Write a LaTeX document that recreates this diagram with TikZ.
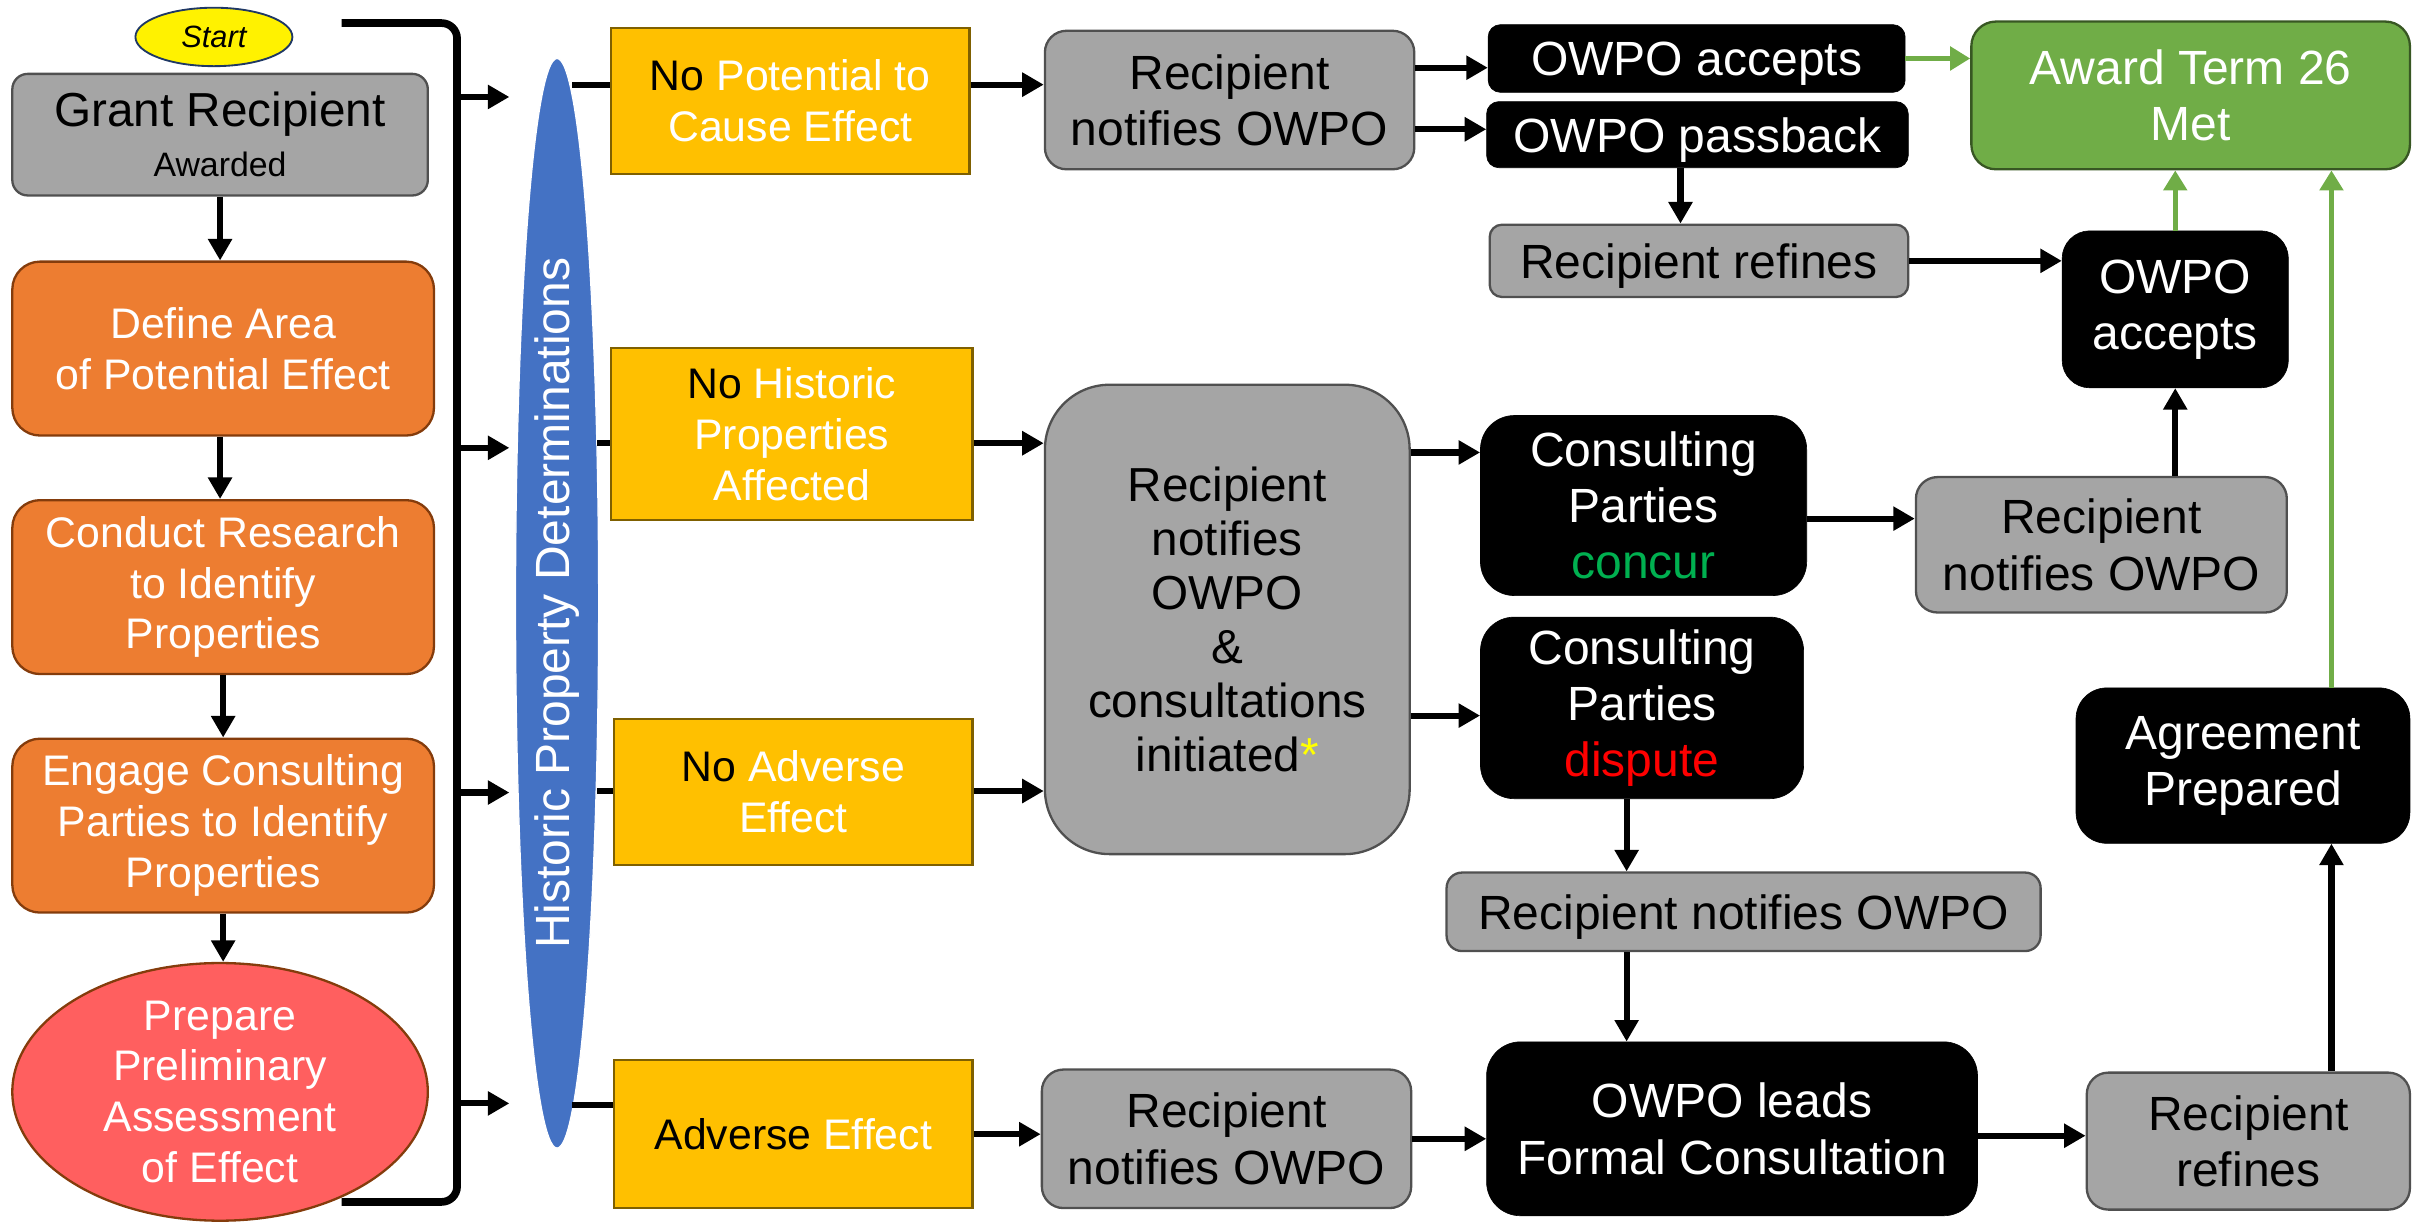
\documentclass[tikz,border=0pt]{standalone}
\usepackage{fontspec}
\setmainfont{Liberation Sans}
\usetikzlibrary{arrows.meta,shapes.geometric}
\definecolor{gfill}{HTML}{A5A5A5}
\definecolor{gborder}{HTML}{505050}
\definecolor{ofill}{HTML}{ED7D31}
\definecolor{oborder}{HTML}{843C0C}
\definecolor{rfill}{HTML}{FF5F5F}
\definecolor{yfill}{HTML}{FFC000}
\definecolor{yborder}{HTML}{7F6000}
\definecolor{bfill}{HTML}{4472C4}
\definecolor{grfill}{HTML}{70AD47}
\definecolor{grborder}{HTML}{385723}
\definecolor{startb}{HTML}{1F3864}
\definecolor{concur}{HTML}{00B050}
\definecolor{ast}{HTML}{FFFF00}
\begin{document}
\begin{tikzpicture}[x=1pt,y=-1pt,
  sz/.style 2 args={minimum width=#1pt,minimum height=#2pt},
  base/.style={align=center,inner sep=0pt,font=\fontsize{31.2}{36.5}\selectfont},
  gbox/.style={base,draw=gborder,fill=gfill,line width=1.5pt,rounded corners=10pt,text=black},
  bbox/.style={base,draw=black,fill=black,rounded corners=10pt,text=white},
  ybox/.style={base,font=\fontsize{27.8}{33}\selectfont,draw=yborder,fill=yfill,line width=1.5pt,text=white},
  obox/.style={base,font=\fontsize{27.8}{33}\selectfont,draw=oborder,fill=ofill,line width=1.5pt,rounded corners=18pt,text=white},
  oneline/.style={text depth=0pt},
  arr/.style={line width=4pt,-{Triangle[length=14pt,width=15pt]}},
  garr/.style={line width=3.2pt,draw=grfill,-{Triangle[length=13pt,width=15pt]}},
  plain/.style={line width=4pt}
]
\useasboundingbox (0,0) rectangle (1568,796);

% left column
\node[ellipse,draw=startb,fill=yellow,line width=1.2pt,sz={102}{38},inner sep=0pt,
      font=\fontsize{20}{24}\selectfont\itshape] (start) at (139,24) {Start};
\node[gbox,sz={270}{79}] (grant) at (143,87.5)
   {\fontsize{31}{36}\selectfont Grant Recipient\\[-4pt]{\fontsize{22}{26}\selectfont Awarded}};
\node[obox,sz={274}{113}] (define) at (145,226.5) {Define Area\\of Potential Effect};
\node[obox,sz={274}{113}] (conduct) at (145,381.5) {Conduct Research\\to Identify\\Properties};
\node[obox,sz={274}{113}] (engage) at (145,536.5) {Engage Consulting\\Parties to Identify\\Properties};
\node[ellipse,draw=oborder,fill=rfill,line width=1.5pt,sz={270}{137},inner sep=0pt,
      align=center,text=white,font=\fontsize{27.8}{33}\selectfont] (prepare) at (143,709.5)
   {Prepare\\Preliminary\\Assessment\\of Effect};

\draw[arr] (grant.south) -- (grant.south |- define.north);
\draw[arr] (define.south -| grant.south) -- (grant.south |- conduct.north);
\draw[arr] (conduct.south) -- (conduct.south |- engage.north);
\draw[arr] (engage.south) -- (engage.south |- prepare.north);

% bracket
\coordinate (bt) at (222,15);
\coordinate (bb) at (222,781);
\coordinate (bx) at (297,0);
\draw[line width=5pt,rounded corners=10pt] (bt) -- (bt -| bx) -- (bb -| bx) -- (bb);
\foreach \i/\yy in {1/63,2/291,3/515,4/717}{
  \coordinate (k\i) at (297,\yy);
  \coordinate (k\i e) at (331,\yy);
  \draw[arr] (k\i) -- (k\i e);
}

% determinations ellipse
\node[ellipse,fill=bfill,draw=white,line width=0.8pt,sz={708}{54},inner sep=0pt,rotate=90,
      text=white,font=\fontsize{31.2}{36}\selectfont] (hpd) at (362,392) {Historic Property Determinations};

% yellow boxes
\node[ybox,sz={233}{95}] (y1) at (513.5,65.5) {\textcolor{black}{No} Potential to\\Cause Effect};
\node[ybox,sz={235}{112}] (y2) at (514.5,282) {\textcolor{black}{No} Historic\\Properties\\Affected};
\node[ybox,sz={233}{95}] (y3) at (515.5,514.5) {\textcolor{black}{No} Adverse\\Effect};
\node[ybox,oneline,sz={233}{96}] (y4) at (515.5,737) {\textcolor{black}{Adverse} Effect};

\coordinate (e1) at (372,55);
\coordinate (e2) at (388,288);
\coordinate (e3) at (388,514);
\coordinate (e4) at (372,718);
\draw[plain] (e1) -- (e1 -| y1.west);
\draw[plain] (e2) -- (e2 -| y2.west);
\draw[plain] (e3) -- (e3 -| y3.west);
\draw[plain] (e4) -- (e4 -| y4.west);

% gray notify boxes
\node[gbox,sz={240}{90},rounded corners=14pt] (g1) at (799,65) {Recipient\\notifies OWPO};
\node[gbox,sz={237}{305},rounded corners=42pt,font=\fontsize{31}{35}\selectfont] (g2) at (797.5,402.5)
   {Recipient\\notifies\\OWPO\\\&\\consultations\\initiated\textcolor{ast}{*}};
\node[gbox,sz={240}{90},rounded corners=14pt] (g3) at (797,740) {Recipient\\notifies OWPO};

\draw[arr] (y1.east |- e1) -- (g1.west |- e1);
\draw[arr] (y2.east |- e2) -- (g2.west |- e2);
\draw[arr] (y3.east |- e3) -- (g3.west |- e3 -| g2.west);
\draw[arr] (y4.east) -- (y4.east -| g3.west);

% top branch
\node[bbox,oneline,sz={271}{44},rounded corners=8pt] (b1) at (1102.5,38) {OWPO accepts};
\node[bbox,oneline,sz={274}{43},rounded corners=8pt] (b2) at (1103,87.5) {OWPO passback};
\node[gbox,oneline,sz={272}{47},rounded corners=8pt] (r1) at (1104,169.5) {Recipient refines};
\node[bbox,sz={147}{102},rounded corners=18pt] (oa2) at (1413.5,201) {OWPO\\accepts};
\node[base,draw=grborder,fill=grfill,line width=1.5pt,rounded corners=16pt,text=white,sz={285}{96}]
   (award) at (1423.5,62) {Award Term 26\\Met};

\coordinate (c1) at ([yshift=21pt]g1.east);
\coordinate (c2) at ([yshift=-19pt]g1.east);
\draw[arr] (c1) -- (c1 -| b1.west);
\draw[arr] (c2) -- (c2 -| b2.west);
\draw[garr] (b1.east) -- (b1.east -| award.west);
\coordinate (c3) at ([xshift=-11pt]b2.south);
\draw[arr] (c3) -- (c3 |- r1.north);
\draw[arr] (r1.east) -- (r1.east -| oa2.west);
\draw[garr] (oa2.north) -- (oa2.north |- award.south);

% middle branch
\node[bbox,sz={212}{117},rounded corners=22pt] (cpc) at (1068,328.5)
   {Consulting\\Parties\\\textcolor{concur}{concur}};
\node[bbox,sz={210}{118},rounded corners=22pt] (cpd) at (1067,460)
   {Consulting\\Parties\\\textcolor{red}{dispute}};
\node[gbox,sz={241}{88},rounded corners=14pt] (rn2) at (1365.5,354) {Recipient\\notifies OWPO};
\node[gbox,oneline,sz={386}{51},rounded corners=10pt] (rn3) at (1133,592.5) {Recipient notifies OWPO};

\coordinate (c4) at ([yshift=34.5pt]cpc.west);
\coordinate (c5) at ([yshift=-5pt]cpd.west);
\draw[arr] (c4 -| g2.east) -- (c4);
\draw[arr] (c5 -| g2.east) -- (c5);
\coordinate (c6) at ([yshift=-8.5pt]cpc.east);
\draw[arr] (c6) -- (c6 -| rn2.west);
\draw[arr] (oa2.south |- rn2.north) -- (oa2.south);
\coordinate (c7) at ([xshift=-10pt]cpd.south);
\draw[arr] (c7) -- (c7 |- rn3.north);

% bottom branch
\node[bbox,sz={319}{113},rounded corners=22pt] (fc) at (1125.5,733.5) {OWPO leads\\Formal Consultation};
\node[gbox,sz={210}{89},rounded corners=14pt] (rr) at (1461,741.5) {Recipient\\refines};
\node[bbox,sz={217}{101},rounded corners=20pt] (ap) at (1457.5,497.5) {Agreement\\Prepared};

\draw[arr] (c7 |- rn3.south) -- (c7 |- fc.north);
\draw[arr] (g3.east) -- (g3.east -| fc.west);
\coordinate (c8) at ([yshift=-4.5pt]fc.east);
\draw[arr] (c8) -- (c8 -| rr.west);
\coordinate (c9) at ([xshift=54pt]rr.north);
\draw[arr] (c9) -- (c9 |- ap.south);
\draw[garr] (c9 |- ap.north) -- (c9 |- award.south);
\end{tikzpicture}
\end{document}
